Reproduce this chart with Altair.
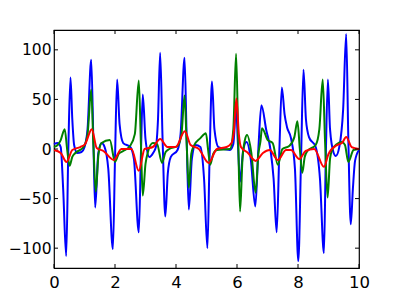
import altair as alt
import pandas as pd

# blue series
bx = [0.00, 0.12, 0.22, 0.30, 0.40, 0.47, 0.54, 0.60, 0.66, 0.76, 0.90, 1.00, 1.10, 1.22, 1.29, 1.35, 1.45, 1.56, 1.66, 1.78, 1.93, 2.00, 2.07, 2.15, 2.27, 2.50, 2.62, 2.78, 2.85, 2.91, 3.00, 3.13, 3.25, 3.34, 3.41, 3.48, 3.56, 3.65, 3.73, 3.83, 4.05, 4.15, 4.28, 4.35, 4.42, 4.52, 4.64, 4.80, 4.92, 5.03, 5.10, 5.18, 5.26, 5.39, 5.77, 5.88, 5.97, 6.03, 6.10, 6.20, 6.31, 6.45, 6.60, 6.70, 6.80, 6.96, 7.10, 7.20, 7.30, 7.39, 7.47, 7.56, 7.64, 7.77, 7.90, 8.01, 8.10, 8.18, 8.26, 8.36, 8.58, 8.72, 8.85, 8.91, 8.98, 9.05, 9.17, 9.24, 9.36, 9.48, 9.58, 9.65, 9.73, 9.80, 9.87, 10.00]
by = [5, 6, 2, -40, -108, 0, 72, 30, 4, -4, -3, 2, 20, 90, 10, -59, -5, 6, 2, -20, -101, -10, 70, 25, 6, 2, -10, -84, -5, 55, 10, -8, -4, 2, 30, 97, 10, -68, -25, -8, -1, 15, 92, 10, -61, -10, 4, 2, -30, -100, -10, 68, 20, 2, -1, 5, 42, 5, -33, -2, 7, -10, -58, 0, 44, 19, -1, -30, -84, 0, 62, 35, 22, 11, -20, -113, -10, 80, 30, 12, 2, -30, -105, -10, 70, 20, -4, -7, 3, 40, 116, 10, -76, -40, -12, -1]

# green series
gx = [0.00, 0.12, 0.22, 0.35, 0.43, 0.51, 0.60, 0.70, 0.97, 1.10, 1.22, 1.29, 1.37, 1.46, 1.56, 1.83, 2.00, 2.12, 2.27, 2.49, 2.65, 2.78, 2.85, 2.91, 3.00, 3.07, 3.24, 3.38, 3.54, 3.66, 3.78, 4.05, 4.18, 4.28, 4.35, 4.42, 4.50, 4.58, 4.80, 4.98, 5.05, 5.12, 5.22, 5.34, 5.77, 5.88, 5.97, 6.04, 6.10, 6.18, 6.26, 6.33, 6.47, 6.61, 6.70, 6.77, 6.82, 7.01, 7.17, 7.34, 7.49, 7.71, 7.88, 7.98, 8.06, 8.14, 8.22, 8.31, 8.58, 8.70, 8.81, 8.89, 8.97, 9.05, 9.12, 9.28, 9.44, 9.54, 9.65, 9.82, 10.00]
gy = [2, 4, 9, 20, 0, -17, -8, -4, 2, 15, 60, 5, -43, -5, 6, 9, -13, -5, -2, 3, 15, 69, 5, -47, -15, -4, 6, 5, -14, -3, 0, 3, 15, 54, 5, -39, -5, 3, 11, 16, 0, -16, -5, -1, 0, 20, 96, 10, -63, -10, 9, 14, -4, -44, -5, 8, 21, 9, 6, -16, 0, 3, 12, 28, 0, -24, -8, -2, 4, 20, 70, 5, -49, -10, -1, 5, 7, 4, -13, -1, 0]

# red series
rx = [0.00, 0.22, 0.41, 0.60, 0.86, 1.02, 1.24, 1.40, 1.62, 1.96, 2.21, 2.54, 2.78, 2.97, 3.24, 3.48, 3.72, 3.99, 4.29, 4.48, 4.75, 5.07, 5.34, 5.66, 5.82, 5.90, 5.98, 6.06, 6.13, 6.36, 6.61, 6.85, 7.07, 7.34, 7.61, 7.77, 8.04, 8.25, 8.53, 8.85, 9.00, 9.28, 9.44, 9.58, 9.76, 10.00]
ry = [-1, -4, -13, -1, 2, 5, 20, 1, -2, -11, 0, 0, -22, 0, 2, 10, 2, 2, 18, 4, 0, -14, 0, 2, 6, 18, 51, 15, 2, -4, -12, -4, -1, -11, -1, -1, -10, -2, 0, -18, -5, 4, 6, 12, 2, 0]

xticks = [0, 2, 4, 6, 8, 10]
yticks = [-100, -50, 0, 50, 100]

W, H = 305, 238
FONT = "DejaVu Sans"
xs = alt.Scale(domain=[0, 10], nice=False, zero=False)
ys = alt.Scale(domain=[-120, 120], nice=False, zero=False)

xaxis = alt.Axis(values=xticks, ticks=False, grid=False, domain=False, title=None,
                 labelFont=FONT, labelFontSize=16.5, labelColor="black", labelPadding=6,
                 labelFlush=False)
yaxis = alt.Axis(values=yticks, ticks=False, grid=False, domain=False, title=None,
                 labelFont=FONT, labelFontSize=15.5, labelColor="black", labelPadding=3)


def line(xv, yv, color):
    df = pd.DataFrame({"x": xv, "y": yv})
    return alt.Chart(df).mark_line(color=color, strokeWidth=2, interpolate="monotone").encode(
        x=alt.X("x:Q", scale=xs, axis=xaxis),
        y=alt.Y("y:Q", scale=ys, axis=yaxis),
    )


xt = pd.DataFrame({"x": xticks})
yt = pd.DataFrame({"y": yticks})
tick_bottom = alt.Chart(xt).mark_rule(color="black", strokeWidth=1).encode(
    x=alt.X("x:Q", scale=xs, axis=xaxis), y=alt.value(H), y2=alt.value(H - 4))
tick_top = alt.Chart(xt).mark_rule(color="black", strokeWidth=1).encode(
    x=alt.X("x:Q", scale=xs, axis=xaxis), y=alt.value(0), y2=alt.value(4))
tick_left = alt.Chart(yt).mark_rule(color="black", strokeWidth=1).encode(
    y=alt.Y("y:Q", scale=ys, axis=yaxis), x=alt.value(0), x2=alt.value(4))
tick_right = alt.Chart(yt).mark_rule(color="black", strokeWidth=1).encode(
    y=alt.Y("y:Q", scale=ys, axis=yaxis), x=alt.value(W), x2=alt.value(W - 4))

chart = alt.layer(
    line(bx, by, "#0000ff"),
    line(gx, gy, "#008000"),
    line(rx, ry, "#ff0000"),
    tick_bottom, tick_top, tick_left, tick_right,
).properties(
    width=W, height=H,
    autosize=alt.AutoSizeParams(type="none"),
    padding={"left": 46, "top": 22, "right": 30, "bottom": 30},
    background="white",
).configure_view(stroke="black", strokeWidth=1.2)

chart.save("out.html", embed_options={"renderer": "svg", "actions": False})
